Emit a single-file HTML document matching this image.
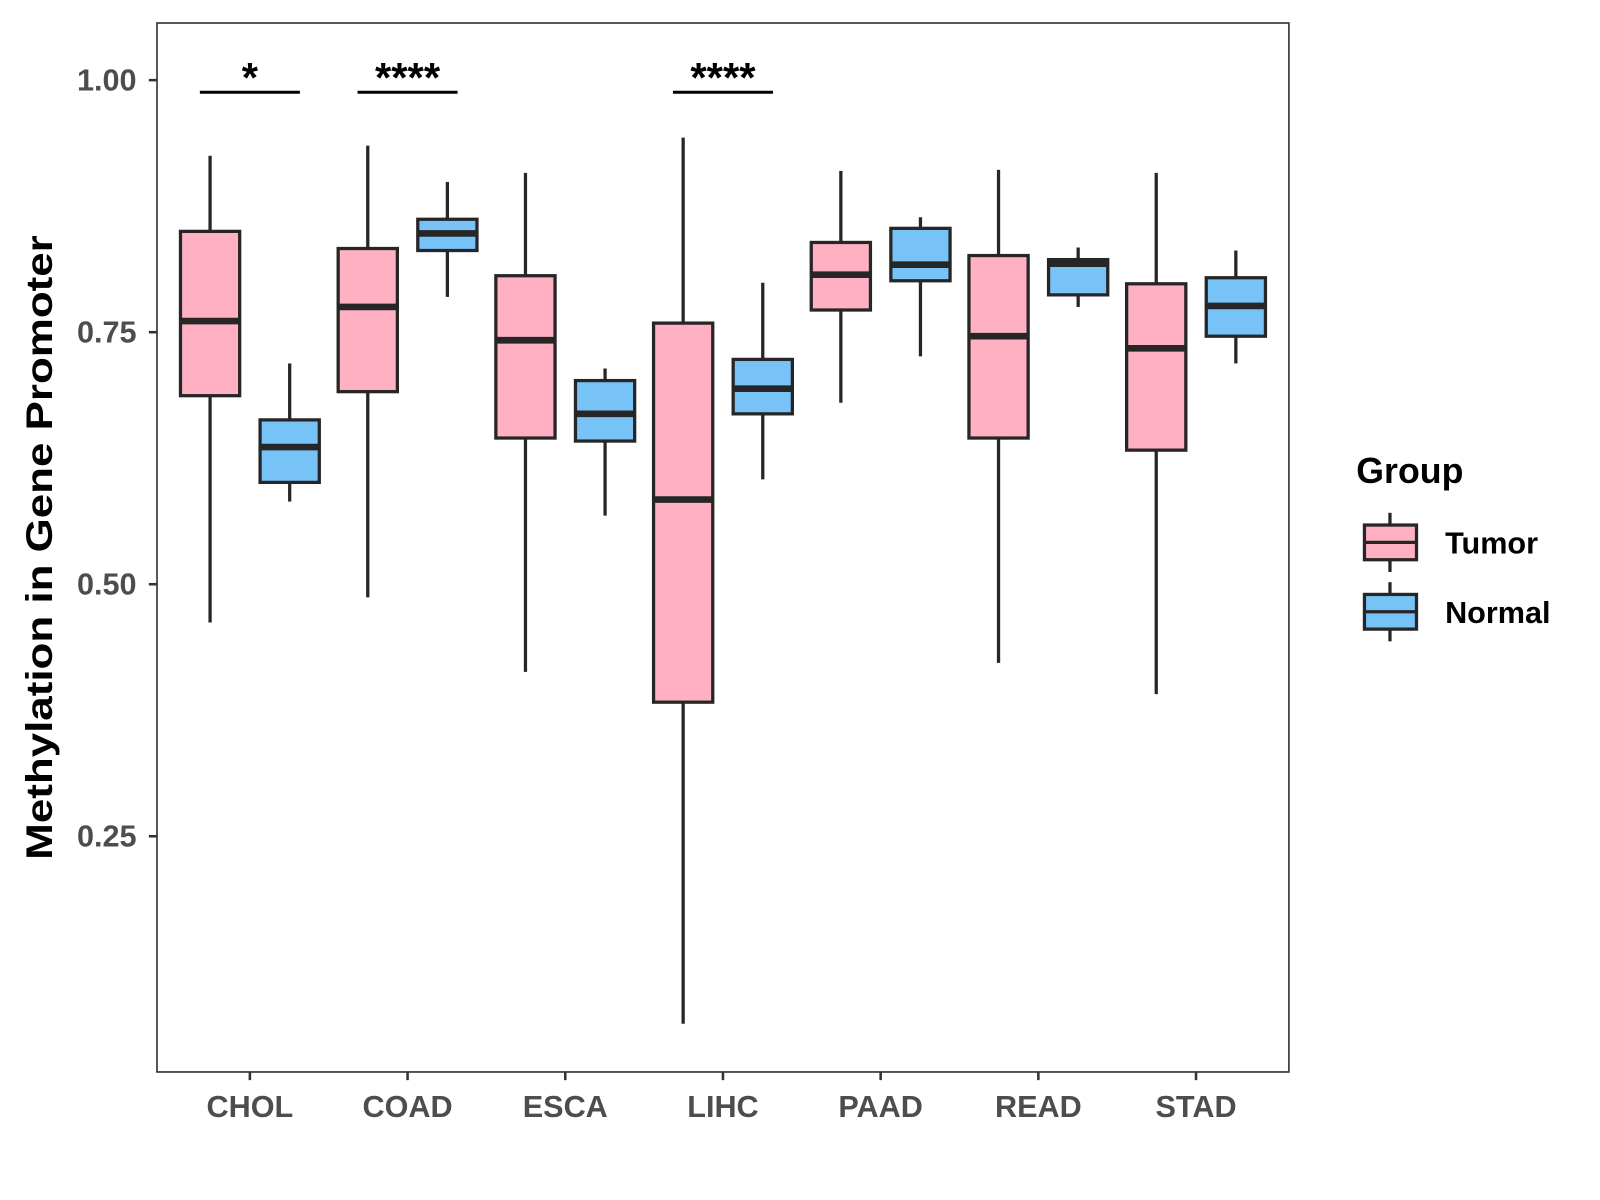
<!DOCTYPE html>
<html><head><meta charset="utf-8"><style>
html,body{margin:0;padding:0;background:#fff;}
svg{display:block;font-family:"Liberation Sans",Arial,sans-serif;}
</style></head><body>
<svg id="chart" width="1600" height="1200" viewBox="1.18 -0.54 1567.6 1176" preserveAspectRatio="none" xmlns="http://www.w3.org/2000/svg">
<rect x="-10" y="-10" width="1600" height="1200" fill="#fff"/>
<g id="plot"></g>
</svg>
<script>
const categories = ["CHOL","COAD","ESCA","LIHC","PAAD","READ","STAD"];
// [lowWhisker, Q1, median, Q3, highWhisker]
const tumorStats = [
  [0.462,0.687,0.761,0.850,0.925],
  [0.487,0.691,0.775,0.833,0.935],
  [0.413,0.645,0.742,0.806,0.908],
  [0.064,0.383,0.584,0.759,0.943],
  [0.680,0.772,0.807,0.839,0.910],
  [0.422,0.645,0.746,0.826,0.911],
  [0.391,0.633,0.734,0.798,0.908]
];
const normalStats = [
  [0.582,0.601,0.636,0.663,0.719],
  [0.785,0.831,0.848,0.862,0.899],
  [0.568,0.642,0.669,0.702,0.714],
  [0.604,0.669,0.694,0.723,0.799],
  [0.726,0.801,0.817,0.853,0.864],
  [0.775,0.787,0.818,0.822,0.834],
  [0.719,0.746,0.776,0.804,0.831]
];
const yTicks = [0.25,0.50,0.75,1.00];
const yTickLabels = ["0.25","0.50","0.75","1.00"];
const sigCategories = ["CHOL","COAD","LIHC"];
const sigLabels = ["*","****","****"];
const sigLevel = 0.988;

const NS="http://www.w3.org/2000/svg";
const g=document.getElementById('plot');
const PL=155,PR=1264,PT=22,PB=1050;
function y(v){return 78+(1-v)*988;}
function x(i){return 246+i*154.5;}
const HW=29,OFF=39;
function el(t,a,p){const e=document.createElementNS(NS,t);for(const k in a)e.setAttribute(k,a[k]);(p||g).appendChild(e);return e;}

const panel=el('rect',{x:PL,y:PT,width:PR-PL,height:PB-PT,fill:'none',stroke:'#333',"stroke-width":1.6});



yTicks.forEach((v,i)=>{
  const t=el('line',{x1:PL-8,x2:PL,y1:y(v),y2:y(v),stroke:'#333',"stroke-width":2.5});
  
  
  const l=el('text',{x:PL-20,y:y(v)+10,"text-anchor":"end","font-size":30,"font-weight":"bold",fill:'#4d4d4d'});
  l.textContent=yTickLabels[i];
  
  
});
categories.forEach((c,i)=>{
  const t=el('line',{x1:x(i),x2:x(i),y1:PB,y2:PB+8,stroke:'#333',"stroke-width":2.5});
  
  
  const l=el('text',{x:x(i),y:PB+44,"text-anchor":"middle","font-size":30,"font-weight":"bold",fill:'#4d4d4d'});
  l.textContent=c;
  
  
});

function box(cx,s,fill,name){
  const gg=el('g',{});
  
  
  el('line',{x1:cx,x2:cx,y1:y(s[4]),y2:y(s[3]),stroke:'#262626',"stroke-width":3.2},gg);
  el('line',{x1:cx,x2:cx,y1:y(s[1]),y2:y(s[0]),stroke:'#262626',"stroke-width":3.2},gg);
  el('rect',{x:cx-HW,y:y(s[3]),width:2*HW,height:y(s[1])-y(s[3]),fill:fill,stroke:'#262626',"stroke-width":3.2},gg);
  el('line',{x1:cx-HW,x2:cx+HW,y1:y(s[2]),y2:y(s[2]),stroke:'#262626',"stroke-width":6.5},gg);
}
categories.forEach((c,i)=>{
  box(x(i)-OFF,tumorStats[i],'#FFB0C3','box-tumor-'+c.toLowerCase());
  box(x(i)+OFF,normalStats[i],'#77C3F7','box-normal-'+c.toLowerCase());
});

sigCategories.forEach((c,k)=>{
  const i=categories.indexOf(c);
  const b=el('line',{x1:x(i)-49,x2:x(i)+49,y1:y(sigLevel),y2:y(sigLevel),stroke:'#000',"stroke-width":3});
  
  
  const t=el('text',{x:x(i),y:y(sigLevel)+0,"text-anchor":"middle","font-size":41,"font-weight":"bold",fill:'#000'});
  t.textContent=sigLabels[k];
  
  
});

const yt=el('text',{x:0,y:0,transform:'translate(52,536) rotate(-90)',"text-anchor":"middle","font-size":36,"font-weight":"bold",fill:'#000',textLength:612,lengthAdjust:'spacingAndGlyphs'});
yt.textContent='Methylation in Gene Promoter';



const lt=el('text',{x:1330,y:473,"font-size":35,"font-weight":"bold",fill:'#000'});
lt.textContent='Group';


[['Tumor','#FFB0C3',531],['Normal','#77C3F7',599]].forEach(([n,f,cy])=>{
  const gg=el('g',{});
  
  
  el('line',{x1:1363,x2:1363,y1:cy-29,y2:cy+29,stroke:'#262626',"stroke-width":3.2},gg);
  el('rect',{x:1338,y:cy-17,width:51,height:34,fill:f,stroke:'#262626',"stroke-width":3.2},gg);
  el('line',{x1:1338,x2:1389,y1:cy,y2:cy,stroke:'#262626',"stroke-width":3.2},gg);
  const t=el('text',{x:1417,y:cy+11,"font-size":30,"font-weight":"bold",fill:'#000'},gg);
  t.textContent=n;
});
</script>
</body></html>
